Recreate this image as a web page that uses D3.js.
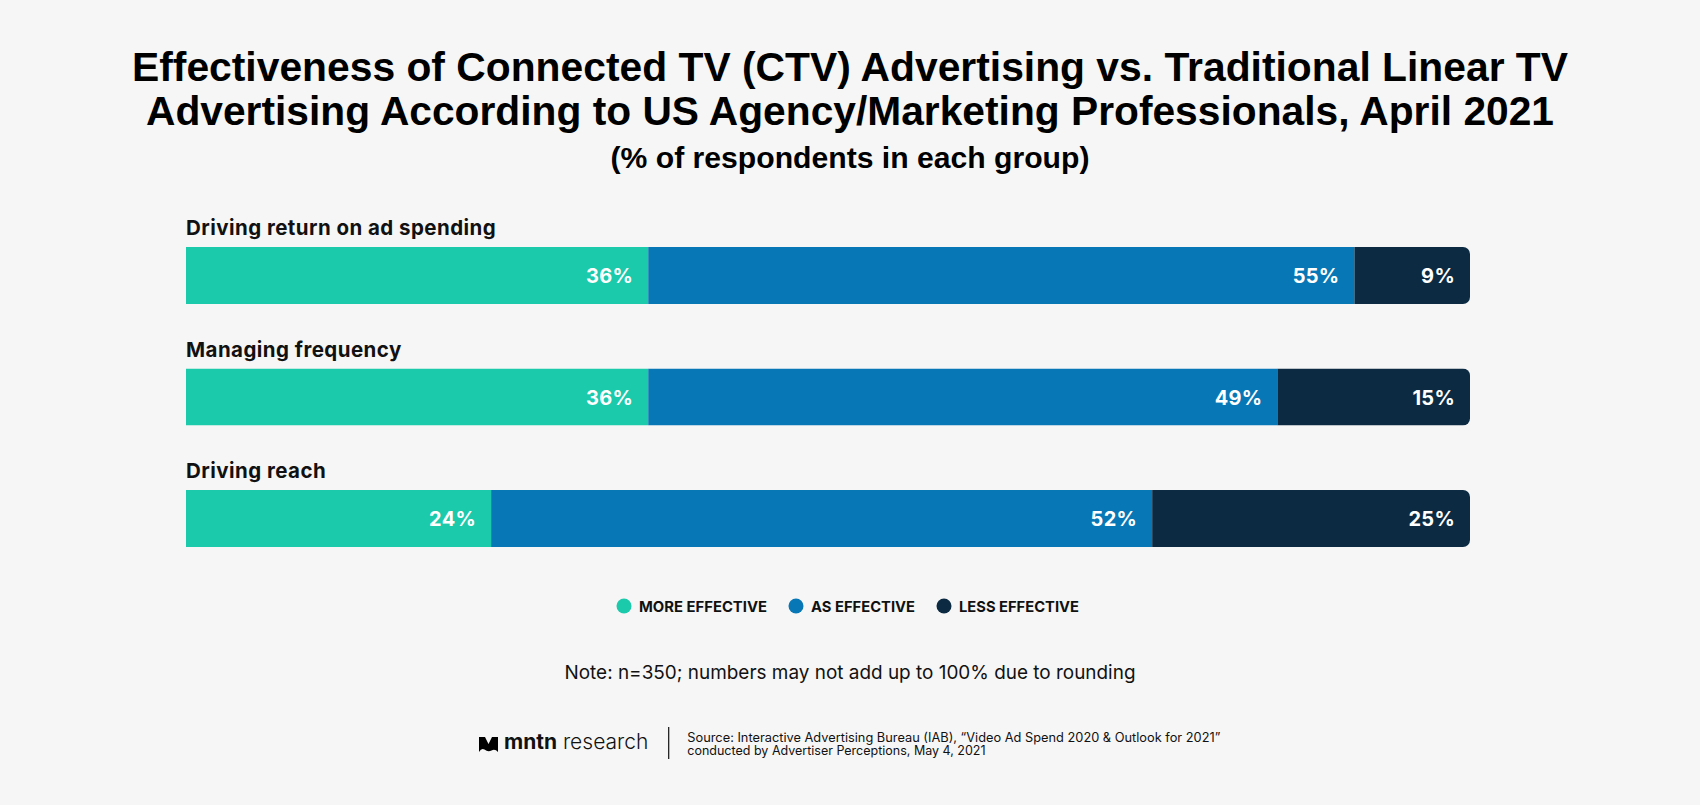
<!DOCTYPE html>
<html>
<head>
<meta charset="utf-8">
<script src="https://cdn.jsdelivr.net/npm/d3@7"></script>
<style>
  html, body { margin: 0; padding: 0; background: #F6F6F6; }
  svg { display: block; }
</style>
</head>
<body>
<svg id="chart" width="1700" height="805"></svg>
<script>
// ---- data ----
const categories = ["Driving return on ad spending", "Managing frequency", "Driving reach"];
const seriesNames = ["MORE EFFECTIVE", "AS EFFECTIVE", "LESS EFFECTIVE"];
const moreEffective = [36, 36, 24];
const asEffective = [55, 49, 52];
const lessEffective = [9, 15, 25];
const seriesColors = ["#1BC9AB", "#0777B5", "#0C2B42"];

const titleLines = [
  "Effectiveness of Connected TV (CTV) Advertising vs. Traditional Linear TV",
  "Advertising According to US Agency/Marketing Professionals, April 2021"
];
const subtitle = "(% of respondents in each group)";
const note = "Note: n=350; numbers may not add up to 100% due to rounding";
const sourceLines = [
  "Source: Interactive Advertising Bureau (IAB), \u201cVideo Ad Spend 2020 & Outlook for 2021\u201d",
  "conducted by Advertiser Perceptions, May 4, 2021"
];

// ---- build table ----
const table = categories.map((c, i) => ({
  category: c,
  [seriesNames[0]]: moreEffective[i],
  [seriesNames[1]]: asEffective[i],
  [seriesNames[2]]: lessEffective[i]
}));

const svg = d3.select("#chart");
const W = 1700;
const headFont = "'Liberation Sans', Arial, Helvetica, sans-serif";
const bodyFont = "Inter, 'Noto Sans', sans-serif";

function fit(sel, w) {
  sel.each(function () {
    const n = this.getComputedTextLength();
    if (Math.abs(n - w) > 1) {
      d3.select(this).attr("textLength", w).attr("lengthAdjust", "spacingAndGlyphs");
    }
  });
}

// ---- title ----
const titleWidths = [1436, 1408];
const titleBase = [80.7, 125];
titleLines.forEach((t, i) => {
  svg.append("text")
    .attr("x", W / 2).attr("y", titleBase[i])
    .attr("text-anchor", "middle")
    .attr("font-family", headFont).attr("font-weight", 700)
    .attr("font-size", 41).attr("fill", "#000")
    .text(t)
    .call(fit, titleWidths[i]);
});
svg.append("text")
  .attr("x", W / 2).attr("y", 168)
  .attr("text-anchor", "middle")
  .attr("font-family", headFont).attr("font-weight", 700)
  .attr("font-size", 30).attr("fill", "#000")
  .text(subtitle)
  .call(fit, 479);

// ---- scales ----
const x = d3.scaleLinear().domain([0, 1]).range([186, 1470]);
const y = d3.scaleBand().domain(categories).range([247, 547]).paddingInner(0.531).paddingOuter(0);
const color = d3.scaleOrdinal().domain(seriesNames).range(seriesColors);

const stack = d3.stack().keys(seriesNames).offset(d3.stackOffsetExpand);
const stacked = stack(table);

// clip paths for rounded right end
const defs = svg.append("defs");
categories.forEach((c, i) => {
  defs.append("clipPath").attr("id", "clip" + i)
    .append("rect")
    .attr("x", x(0) - 20).attr("y", y(c))
    .attr("width", x(1) - x(0) + 20).attr("height", y.bandwidth())
    .attr("rx", 7).attr("ry", 7);
});

// category labels
svg.append("g").selectAll("text").data(categories).join("text")
  .attr("x", x(0)).attr("y", d => y(d) - 12)
  .attr("font-family", bodyFont).attr("font-weight", 700)
  .attr("font-size", 20.5).attr("letter-spacing", 0.45).attr("fill", "#111")
  .text(d => d);

// bars
const rows = svg.append("g").selectAll("g").data(categories).join("g")
  .attr("clip-path", (d, i) => `url(#clip${i})`);

rows.each(function (cat, ri) {
  const g = d3.select(this);
  stacked.forEach(layer => {
    const d = layer[ri];
    g.append("rect")
      .attr("x", x(d[0]))
      .attr("y", y(cat))
      .attr("width", x(d[1]) - x(d[0]))
      .attr("height", y.bandwidth())
      .attr("fill", color(layer.key));
  });
});

// value labels
const labelG = svg.append("g");
stacked.forEach(layer => {
  layer.forEach((d, ri) => {
    const cat = categories[ri];
    labelG.append("text")
      .attr("x", x(d[1]) - 15)
      .attr("y", y(cat) + y.bandwidth() / 2 + 7.5)
      .attr("text-anchor", "end")
      .attr("font-family", bodyFont).attr("font-weight", 700)
      .attr("font-size", 20).attr("letter-spacing", 0.3).attr("fill", "#fff")
      .text(d.data[layer.key] + "%");
  });
});

// ---- legend ----
const legendG = svg.append("g");
const legendText = [128, 104, 120];
let lx = 616.5;
seriesNames.forEach((s, i) => {
  legendG.append("circle")
    .attr("cx", lx + 7.5).attr("cy", 606).attr("r", 7.5)
    .attr("fill", color(s));
  legendG.append("text")
    .attr("x", lx + 22.5).attr("y", 611.5)
    .attr("font-family", bodyFont).attr("font-weight", 700)
    .attr("font-size", 15).attr("fill", "#111")
    .text(s)
    .call(fit, legendText[i]);
  lx = lx + 22.5 + legendText[i] + 21.5;
});

// ---- note ----
svg.append("text")
  .attr("x", W / 2).attr("y", 679.3)
  .attr("text-anchor", "middle")
  .attr("font-family", bodyFont).attr("font-weight", 400)
  .attr("font-size", 19).attr("fill", "#111")
  .text(note)
  .call(fit, 571);

// ---- footer ----
const foot = svg.append("g");
foot.append("path")
  .attr("d", "M479,737 L485,737 L488.5,744 L492,737 L498,737 L498,752 Q495,748.5 491.5,750.5 Q488,752.5 484.5,749.5 Q481.5,747.5 479,752 Z")
  .attr("fill", "#000");
const logo = foot.append("text")
  .attr("x", 504).attr("y", 749)
  .attr("font-family", bodyFont).attr("font-size", 21).attr("fill", "#111");
logo.append("tspan").attr("font-weight", 700).text("mntn");
logo.append("tspan").attr("font-weight", 300).text(" research");
fit(logo, 145);

foot.append("line")
  .attr("x1", 668.7).attr("x2", 668.7).attr("y1", 727).attr("y2", 759)
  .attr("stroke", "#111").attr("stroke-width", 1.2);

const srcW = [533, 299];
const srcBase = [741.7, 754.5];
sourceLines.forEach((t, i) => {
  foot.append("text")
    .attr("x", 687.3).attr("y", srcBase[i])
    .attr("font-family", bodyFont).attr("font-weight", 400)
    .attr("font-size", 12.5).attr("fill", "#111")
    .text(t)
    .call(fit, srcW[i]);
});
</script>
</body>
</html>
